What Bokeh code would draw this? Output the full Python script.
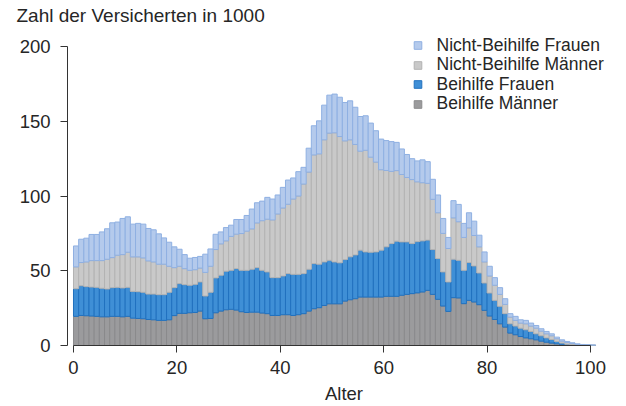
import math
from bokeh.plotting import figure
from bokeh.models import Range1d, Legend, LegendItem, FixedTicker, ColumnDataSource
from bokeh.embed import file_html
from bokeh.resources import INLINE

# ---------------- data ----------------
ages = list(range(0, 101))

beihilfe_maenner = [
    19.5, 20.1, 19.9, 19.7, 19.5, 19.2, 19.2, 19.5, 19.5, 19.2,
    19.5, 18.3, 18.1, 17.9, 17.4, 17.2, 16.8, 16.8, 17.2, 20.0,
    21.5, 21.5, 21.9, 22.1, 23.0, 17.9, 18.1, 21.9, 23.0, 23.9,
    24.2, 23.7, 22.6, 22.1, 22.3, 22.3, 21.7, 21.3, 20.1, 20.1,
    20.6, 20.6, 20.1, 20.6, 21.3, 23.0, 24.6, 25.3, 26.8, 27.9,
    27.9, 27.9, 29.7, 30.6, 31.3, 32.4, 32.4, 32.4, 32.4, 32.4,
    32.9, 32.9, 32.9, 33.6, 34.2, 34.7, 35.2, 35.8, 36.9, 34.2,
    30.9, 26.4, 22.8, 32.0, 31.8, 28.0, 30.2, 29.1, 27.3, 23.5,
    19.7, 17.4, 14.5, 12.3, 8.3, 7.2, 6.0, 5.1, 4.5, 3.8,
    2.9, 2.2, 1.6, 1.1, 0.5, 0.3, 0.1, 0.05, 0.02, 0.01, 0.01]

beihilfe_frauen = [
    18.5, 19.9, 19.5, 19.4, 19.4, 19.1, 18.6, 19.2, 19.4, 19.3,
    19.4, 17.9, 17.9, 17.7, 17.0, 17.2, 17.2, 17.2, 18.4, 18.7,
    19.9, 19.2, 18.4, 18.8, 19.5, 15.2, 17.5, 23.3, 24.0, 25.8,
    26.1, 27.8, 27.7, 28.2, 28.7, 29.8, 28.6, 27.9, 25.3, 25.3,
    25.9, 27.5, 27.5, 27.0, 26.8, 28.0, 30.2, 29.1, 29.1, 29.1,
    28.0, 27.4, 27.8, 28.7, 29.3, 31.4, 30.2, 30.0, 30.2, 31.4,
    33.1, 35.3, 36.9, 35.7, 35.1, 33.5, 34.3, 34.2, 33.6, 30.0,
    27.3, 22.8, 19.7, 25.7, 25.2, 22.3, 25.3, 24.1, 21.2, 18.3,
    15.4, 12.8, 11.7, 9.0, 6.2, 5.8, 5.6, 5.4, 4.9, 4.0,
    3.6, 2.9, 2.4, 1.6, 1.1, 0.6, 0.4, 0.25, 0.08, 0.09, 0.04]

nicht_beihilfe_maenner = [
    14.6, 15.5, 16.5, 17.7, 17.9, 18.5, 19.9, 20.1, 21.5, 22.3,
    23.5, 23.1, 23.3, 23.0, 22.2, 21.5, 20.4, 20.4, 17.4, 13.4,
    11.6, 10.7, 10.0, 9.8, 9.3, 15.8, 17.4, 19.0, 21.0, 20.3,
    22.7, 23.0, 24.6, 26.2, 27.0, 29.9, 33.2, 35.3, 38.6, 42.6,
    45.5, 46.4, 50.4, 52.4, 59.9, 65.0, 72.7, 73.8, 81.7, 85.1,
    86.4, 84.5, 79.4, 78.3, 73.9, 66.2, 68.0, 63.6, 60.1, 53.8,
    51.1, 48.3, 47.2, 45.1, 43.1, 42.8, 40.0, 38.9, 38.0, 33.6,
    30.6, 25.8, 22.4, 27.7, 25.8, 22.0, 23.2, 20.4, 17.5, 14.1,
    11.4, 10.1, 8.0, 6.2, 4.5, 3.8, 3.4, 4.0, 3.6, 3.8,
    3.1, 2.7, 2.5, 1.8, 1.3, 1.1, 0.9, 0.4, 0.4, 0.2, 0.15]

nicht_beihilfe_frauen = [
    14.0, 15.6, 15.9, 17.5, 17.5, 19.2, 20.4, 23.3, 22.2, 24.2,
    23.7, 21.9, 22.4, 22.6, 21.7, 21.5, 20.3, 17.6, 16.1, 13.9,
    11.4, 9.4, 8.1, 8.2, 7.8, 12.2, 11.6, 10.2, 8.0, 8.9,
    7.5, 9.8, 9.4, 10.5, 13.3, 13.5, 13.1, 14.6, 14.0, 12.7,
    13.8, 16.2, 14.1, 16.3, 11.2, 16.0, 19.5, 22.1, 23.2, 25.4,
    25.9, 26.3, 25.7, 26.1, 24.9, 23.2, 23.1, 22.8, 21.0, 20.5,
    20.0, 19.9, 18.9, 17.1, 15.4, 14.0, 14.0, 15.3, 14.5, 13.4,
    11.9, 10.0, 7.4, 11.5, 11.6, 9.4, 10.1, 9.6, 7.8, 6.7,
    6.5, 5.1, 4.5, 3.8, 2.3, 2.7, 2.2, 2.3, 2.0, 1.8,
    1.6, 1.6, 1.3, 1.1, 0.9, 0.7, 0.4, 0.4, 0.2, 0.2, 0.1]

series_names = ["Beihilfe Männer", "Beihilfe Frauen",
                "Nicht-Beihilfe Männer", "Nicht-Beihilfe Frauen"]
x_ticks = [0, 20, 40, 60, 80, 100]
y_ticks = [0, 50, 100, 150, 200]
title_text = "Zahl der Versicherten in 1000"
x_label = "Alter"

# ---------------- styles ----------------
fills = ["#9b9b9d", "#3f8fd6", "#c9c9c9", "#b4caec"]
lines = ["#8a8a8c", "#2171bf", "#b3b3b3", "#8fb0e2"]
TXT = "#262626"
FONT = "Liberation Sans"
FS = "18.5px"
LEG_FS = "17.5px"

source = ColumnDataSource(dict(
    x=[a + 0.5 for a in ages],
    bm=beihilfe_maenner, bf=beihilfe_frauen,
    nm=nicht_beihilfe_maenner, nf=nicht_beihilfe_frauen))

p = figure(width=626, height=406, output_backend="svg", toolbar_location=None,
           x_range=Range1d(-1.16, 105.8), y_range=Range1d(0, 212.75),
           min_border_left=67, min_border_right=6, min_border_top=0,
           min_border_bottom=0)

p.vbar_stack(["bm", "bf", "nm", "nf"], x="x", width=1.0, source=source,
             fill_color=fills, line_color=lines, line_width=1)

p.title.text = title_text
p.title.align = "left"
p.title.offset = -51
p.title.text_font = FONT
p.title.text_font_size = "19px"
p.title.text_font_style = "normal"
p.title.text_color = TXT
p.title.standoff = 4

p.outline_line_color = None
p.xgrid.grid_line_color = None
p.ygrid.grid_line_color = None
p.background_fill_color = "white"
p.border_fill_color = "white"

for ax in (p.xaxis[0], p.yaxis[0]):
    ax.axis_line_color = "#333333"
    ax.major_tick_line_color = "#333333"
    ax.minor_tick_line_color = None
    ax.major_tick_in = 0
    ax.major_tick_out = 7
    ax.major_label_text_font = FONT
    ax.major_label_text_font_size = FS
    ax.major_label_text_color = TXT

p.xaxis.ticker = FixedTicker(ticks=x_ticks)
p.yaxis.ticker = FixedTicker(ticks=y_ticks)
p.xaxis.bounds = (0, 100)
p.yaxis.bounds = (0, 200)
p.xaxis.major_label_standoff = 8
p.yaxis.major_label_standoff = 10
p.xaxis.axis_label = x_label
p.xaxis.axis_label_text_font = FONT
p.xaxis.axis_label_text_font_size = FS
p.xaxis.axis_label_text_font_style = "normal"
p.xaxis.axis_label_text_color = TXT
p.xaxis.axis_label_standoff = 6

# legend: one legend per row, top row first
legend_order = [3, 2, 1, 0]
legend_vy = [289, 269.5, 250, 230.5]
for row, idx in enumerate(legend_order):
    proxy = p.scatter(x=[math.nan], y=[math.nan], marker="square", size=8,
                      fill_color=fills[idx], line_color=lines[idx], line_width=1)
    leg = Legend(items=[LegendItem(label=series_names[idx], renderers=[proxy])],
                 location=(340.5, legend_vy[row]),
                 glyph_width=19, glyph_height=22, label_height=22,
                 label_standoff=10, padding=0, spacing=0, margin=0,
                 border_line_color=None, background_fill_alpha=0,
                 label_text_font=FONT, label_text_font_size=LEG_FS,
                 label_text_color=TXT)
    p.add_layout(leg, "center")

open("out.html", "w").write(file_html(p, INLINE))
